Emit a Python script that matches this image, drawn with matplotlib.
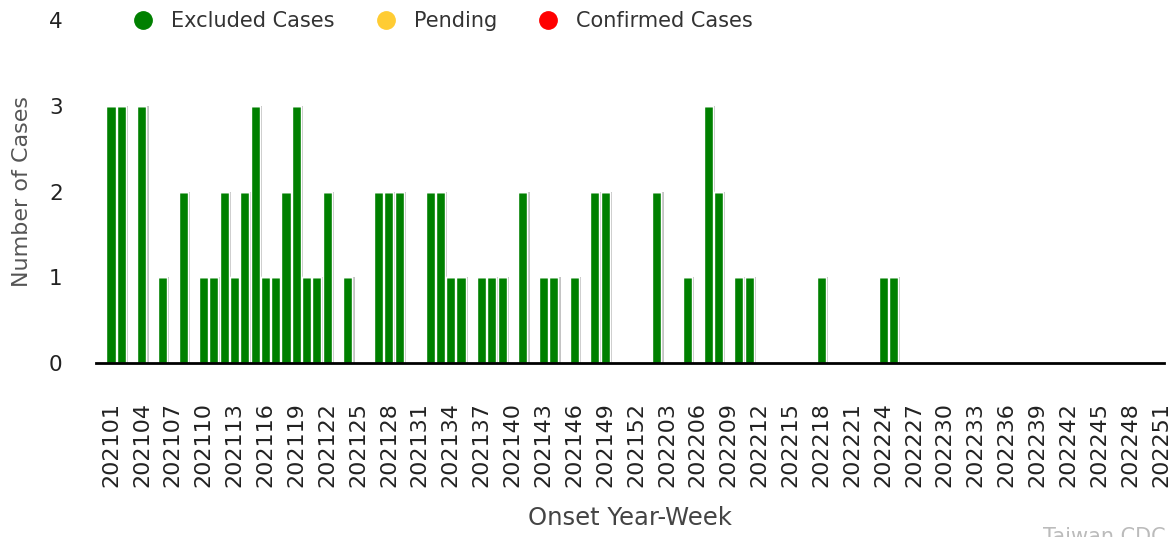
import matplotlib
matplotlib.use("Agg")
import matplotlib.pyplot as plt
from matplotlib.lines import Line2D
import numpy as np

# Categories: ISO year-weeks 202101..202152, 202201..202251
weeks = [f"2021{w:02d}" for w in range(1, 53)] + [f"2022{w:02d}" for w in range(1, 52)]

# Excluded cases per week (nonzero weeks)
excluded_nonzero = {
    "202101": 3, "202102": 3, "202104": 3, "202106": 1, "202108": 2,
    "202110": 1, "202111": 1, "202112": 2, "202113": 1, "202114": 2,
    "202115": 3, "202116": 1, "202117": 1, "202118": 2, "202119": 3,
    "202120": 1, "202121": 1, "202122": 2, "202124": 1,
    "202127": 2, "202128": 2, "202129": 2, "202132": 2, "202133": 2,
    "202134": 1, "202135": 1, "202137": 1, "202138": 1, "202139": 1,
    "202141": 2, "202143": 1, "202144": 1, "202146": 1, "202148": 2,
    "202149": 2,
    "202202": 2, "202205": 1, "202207": 3, "202208": 2, "202210": 1,
    "202211": 1, "202218": 1, "202224": 1, "202225": 1,
}
excluded = [excluded_nonzero.get(w, 0) for w in weeks]
pending = [0] * len(weeks)
confirmed = [0] * len(weeks)

series_names = ["Excluded Cases", "Pending", "Confirmed Cases"]
series_colors = ["#008000", "#FFCC33", "#FF0000"]
yticks = [0, 1, 2, 3, 4]

W, H = 1176, 537
fig = plt.figure(figsize=(W / 100, H / 100), dpi=100)
ax = fig.add_axes([96 / W, (H - 363) / H, (1164 - 96) / W, (363 - 20) / H])

x = np.arange(len(weeks))
bw = 0.88
# shadow
ax.bar(x + 0.24, excluded, width=bw, color="#c4c4c4", zorder=1, linewidth=0)
bottom = np.zeros(len(weeks))
for vals, col in zip([excluded, pending, confirmed], series_colors):
    v = np.array(vals)
    ax.bar(x, v, bottom=bottom, width=bw, color=col, edgecolor="white", linewidth=1.0, zorder=2)
    bottom += v

step = 10.29
ax.set_xlim(-(111 - 96) / step, 102 + 3 / step)
ax.set_ylim(0, 4)
ax.set_yticks(yticks)
ax.set_yticklabels([str(t) for t in yticks], fontsize=15.5, color="#222222")
ax.set_xticks(x[::3])
ax.set_xticklabels(weeks[::3], rotation=90, fontsize=16, color="#222222")
ax.tick_params(axis="y", length=0, pad=24)
ax.tick_params(axis="x", length=0, pad=28)
for s in ["top", "right", "left"]:
    ax.spines[s].set_visible(False)
ax.spines["bottom"].set_linewidth(2)
ax.spines["bottom"].set_color("black")
ax.spines["bottom"].set_zorder(3)

ax.set_ylabel("Number of Cases", fontsize=16, color="#555555", labelpad=12)
ax.set_xlabel("Onset Year-Week", fontsize=17.5, color="#444444", labelpad=14)

handles = [Line2D([0], [0], marker="o", linestyle="none", markersize=12.5,
                  markerfacecolor=c, markeredgecolor=c) for c in series_colors]
leg = fig.legend(handles, series_names, loc="center left", ncol=3,
                 bbox_to_anchor=(114 / W, 1 - 21 / H), frameon=False,
                 fontsize=15, handletextpad=0.84, columnspacing=1.95,
                 handlelength=1.0)
for t in leg.get_texts():
    t.set_color("#333333")

fig.text(1043 / W, 1 - 527 / H, "Taiwan CDC", fontsize=15, color="#bbbbbb",
         ha="left", va="top")

fig.savefig("out.png", dpi=100)
